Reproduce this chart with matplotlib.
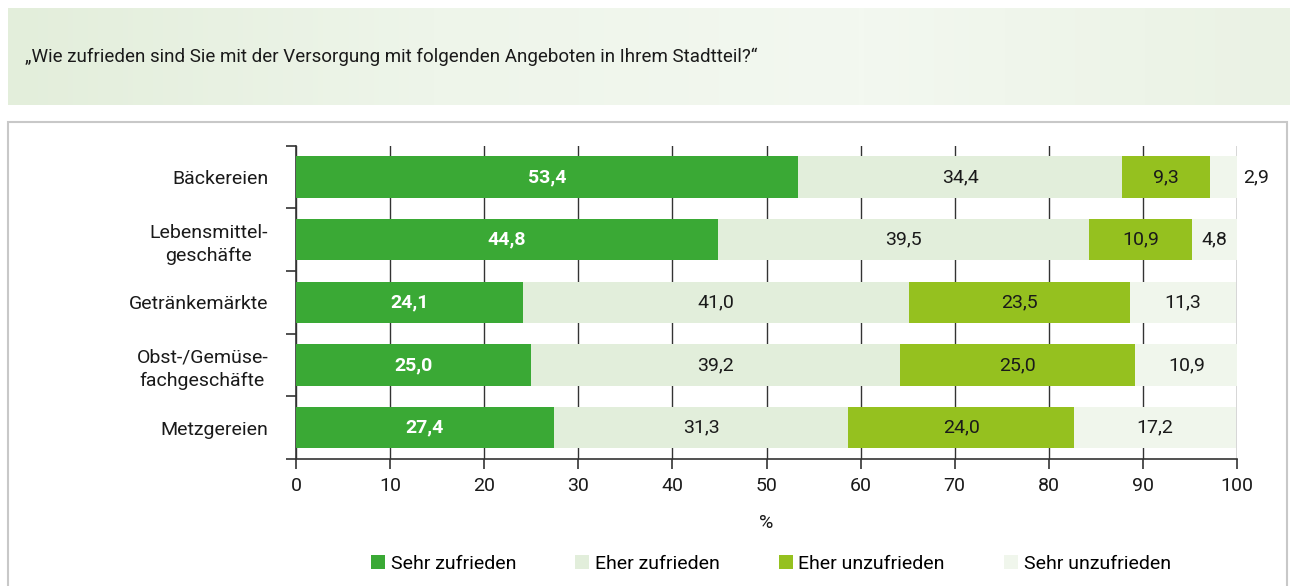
import numpy as np
import matplotlib
matplotlib.use("Agg")
import matplotlib.pyplot as plt
from matplotlib.patches import Rectangle
from matplotlib.colors import LinearSegmentedColormap

plt.rcParams['font.family'] = ['Roboto', 'DejaVu Sans']

categories = ["Bäckereien", "Lebensmittel-\ngeschäfte", "Getränkemärkte",
              "Obst-/Gemüse-\nfachgeschäfte", "Metzgereien"]
series_names = ["Sehr zufrieden", "Eher zufrieden", "Eher unzufrieden", "Sehr unzufrieden"]
sehr_zufrieden = [53.4, 44.8, 24.1, 25.0, 27.4]
eher_zufrieden = [34.4, 39.5, 41.0, 39.2, 31.3]
eher_unzufrieden = [9.3, 10.9, 23.5, 25.0, 24.0]
sehr_unzufrieden = [2.9, 4.8, 11.3, 10.9, 17.2]
xticks = [0, 10, 20, 30, 40, 50, 60, 70, 80, 90, 100]
title = "„Wie zufrieden sind Sie mit der Versorgung mit folgenden Angeboten in Ihrem Stadtteil?\u201c"

colors = ["#3aa935", "#e2eedb", "#95c11f", "#f0f6ec"]
text_colors = ["white", "#1a1a1a", "#1a1a1a", "#1a1a1a"]
weights = ["bold", "normal", "normal", "normal"]

W, H = 1290, 586
fig = plt.figure(figsize=(W / 100, H / 100), dpi=100)
fig.patch.set_facecolor("white")

# title band with gradient
tax = fig.add_axes([8 / W, 1 - 105 / H, 1282 / W, 97 / H])
cmap = LinearSegmentedColormap.from_list("g", ["#e3eedb", "#eef5ea", "#f3f8f0", "#eaf2e4"])
grad = np.linspace(0, 1, 256).reshape(1, -1)
tax.imshow(grad, aspect="auto", cmap=cmap, extent=[0, 1, 0, 1])
tax.set_axis_off()
fig.text(25 / W, 1 - 57 / H, title, fontsize=13.5, va="center", ha="left", color="#1a1a1a")

# chart box
fig.patches.append(Rectangle((8 / W, -0.05), 1279 / W, (1 - 122 / H) + 0.05,
                             transform=fig.transFigure, facecolor="none",
                             edgecolor="#c8c8c8", lw=1.5))

ax = fig.add_axes([296 / W, 1 - 459 / H, (1237 - 296) / W, (459 - 145.7) / H])
ax.set_zorder(2)
series = [sehr_zufrieden, eher_zufrieden, eher_unzufrieden, sehr_unzufrieden]
y = np.arange(len(categories))
left = np.zeros(len(categories))
handles = []
for i, vals in enumerate(series):
    vals = np.array(vals)
    b = ax.barh(y, vals, left=left, height=0.66, color=colors[i], label=series_names[i], zorder=3)
    handles.append(b)
    for j, v in enumerate(vals):
        if v < 4:
            ax.text(100.6, y[j], f"{v:.1f}".replace(".", ","), ha="left", va="center",
                    fontsize=14, color=text_colors[i], fontweight=weights[i], zorder=4, clip_on=False)
        else:
            ax.text(left[j] + v / 2, y[j], f"{v:.1f}".replace(".", ","), ha="center", va="center",
                    fontsize=14, color=text_colors[i], fontweight=weights[i], zorder=4)
    left = left + vals

ax.set_xlim(0, 100)
ax.set_ylim(len(categories) - 0.5, -0.5)
ax.set_xticks(xticks)
ax.set_xticklabels([str(t) for t in xticks], fontsize=14, color="#1a1a1a")
ax.set_yticks(y)
ax.set_yticklabels(categories, fontsize=14, color="#1a1a1a", multialignment="center",
                   linespacing=1.35)
ax.set_yticks(np.arange(len(categories) + 1) - 0.5, minor=True)
ax.tick_params(axis="y", which="major", length=0, pad=20)
ax.tick_params(axis="y", which="minor", length=7, width=1.2, color="#333333")
ax.tick_params(axis="x", length=7, width=1.2, color="#333333", pad=6)
ax.xaxis.grid(True, color="#333333", lw=1.0, zorder=0)
ax.set_axisbelow(True)
for s in ["top", "right"]:
    ax.spines[s].set_visible(False)
for s in ["left", "bottom"]:
    ax.spines[s].set_color("#333333")
    ax.spines[s].set_linewidth(1.2)
ax.set_xlabel("%", fontsize=14, color="#1a1a1a", labelpad=14)
ax.set_facecolor("none")

leg = fig.legend(handles=handles, labels=series_names, loc="center", ncol=4,
                 bbox_to_anchor=(771 / W, 1 - 564 / H), frameon=False, fontsize=14,
                 handlelength=0.7, handleheight=0.7, handletextpad=0.3, columnspacing=3.05)

fig.savefig("out.png", dpi=100, facecolor="white")
